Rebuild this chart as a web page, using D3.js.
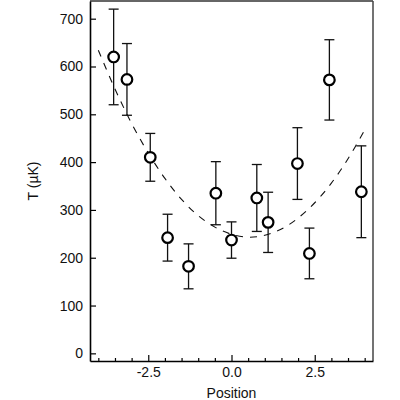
<!DOCTYPE html>
<html>
<head>
<meta charset="utf-8">
<script src="https://cdn.jsdelivr.net/npm/d3@7"></script>
<style>
  body { margin: 0; background: #fff; }
  text { font-family: "Liberation Sans", Arial, sans-serif; }
</style>
</head>
<body>
<script>
// measured points
const positions = [-3.54, -3.14, -2.44, -1.92, -1.29, -0.47, 0.0, 0.76, 1.10, 1.98, 2.34, 2.94, 3.90];
const temps = [620, 573, 410, 242, 182, 335, 237, 325, 274, 397, 209, 572, 338];
const errors = [100, 75, 50, 49, 47, 66, 38, 70, 63, 75, 53, 84, 96];

// dashed fit curve
const fitX = [-4.0, -3.5, -3.0, -2.5, -2.0, -1.5, -1.0, -0.5, 0.0, 0.5, 1.0, 1.5, 2.0, 2.5, 3.0, 3.5, 4.0];
const fitT = [634, 553, 481, 419, 366, 322, 288, 264, 249, 243, 247, 260, 283, 315, 356, 407, 467];

const xMajor = [-2.5, 0, 2.5];
const xMinor = [-4, -3.5, -3, -2, -1.5, -1, -0.5, 0.5, 1, 1.5, 2, 3, 3.5, 4];
const yTicks = [0, 100, 200, 300, 400, 500, 600, 700];

const width = 400, height = 400;
const margin = {top: 1, right: 27, bottom: 39, left: 90};

const svg = d3.select("body")
    .append("svg")
    .attr("width", width)
    .attr("height", height);

const x = d3.scaleLinear()
    .domain([-4.25, 4.25])
    .range([margin.left, width - margin.right]);

const y = d3.scaleLinear()
    .domain([-16, 737])
    .range([height - margin.bottom, margin.top]);

// frame: top and right in grey
svg.append("line")
    .attr("x1", margin.left).attr("x2", width - margin.right)
    .attr("y1", margin.top).attr("y2", margin.top)
    .attr("stroke", "#666").attr("stroke-width", 2);
svg.append("line")
    .attr("x1", width - margin.right).attr("x2", width - margin.right)
    .attr("y1", margin.top).attr("y2", height - margin.bottom)
    .attr("stroke", "#444").attr("stroke-width", 1.5);

// x axis, ticks pointing inward
const xAxisMinor = svg.append("g")
    .attr("transform", `translate(0,${height - margin.bottom})`)
    .call(d3.axisBottom(x).tickValues(xMinor).tickSize(-3).tickFormat(""));
xAxisMinor.select(".domain").remove();

const xAxis = svg.append("g")
    .attr("transform", `translate(0,${height - margin.bottom})`)
    .call(d3.axisBottom(x).tickValues(xMajor).tickSize(-6).tickSizeOuter(0)
        .tickPadding(6).tickFormat(d => d.toFixed(1)));

const yAxis = svg.append("g")
    .attr("transform", `translate(${margin.left},0)`)
    .call(d3.axisLeft(y).tickValues(yTicks).tickSize(-6).tickSizeOuter(0).tickPadding(7));

svg.selectAll("g .domain").attr("stroke-width", 1.6);
svg.selectAll("g .tick line").attr("stroke-width", 1.2);
svg.selectAll("g .tick text")
    .attr("font-size", 14)
    .attr("fill", "#111")
    .style("font-family", "'Liberation Sans', Arial, sans-serif");

// axis titles
svg.append("text")
    .attr("x", x(0))
    .attr("y", 398)
    .attr("text-anchor", "middle")
    .attr("font-size", 14)
    .attr("fill", "#111")
    .text("Position");

svg.append("text")
    .attr("transform", `translate(38,${(margin.top + height - margin.bottom) / 2}) rotate(-90)`)
    .attr("text-anchor", "middle")
    .attr("font-size", 14)
    .attr("fill", "#111")
    .text("T (µK)");

// fit curve
const fitLine = d3.line()
    .x(d => x(d[0]))
    .y(d => y(d[1]))
    .curve(d3.curveCatmullRom);

svg.append("path")
    .datum(fitX.map((v, i) => [v, fitT[i]]))
    .attr("d", fitLine)
    .attr("fill", "none")
    .attr("stroke", "#111")
    .attr("stroke-width", 1.1)
    .attr("stroke-dasharray", "7,7");

// error bars
const pts = positions.map((p, i) => ({x: p, t: temps[i], e: errors[i]}));
const bars = svg.append("g").attr("stroke", "#111").attr("stroke-width", 1.3);

bars.selectAll(".stem")
    .data(pts)
    .join("line")
    .attr("x1", d => x(d.x)).attr("x2", d => x(d.x))
    .attr("y1", d => y(d.t - d.e)).attr("y2", d => y(d.t + d.e));

bars.selectAll(".capTop")
    .data(pts)
    .join("line")
    .attr("x1", d => x(d.x) - 5).attr("x2", d => x(d.x) + 5)
    .attr("y1", d => y(d.t + d.e)).attr("y2", d => y(d.t + d.e));

bars.selectAll(".capBottom")
    .data(pts)
    .join("line")
    .attr("x1", d => x(d.x) - 5).attr("x2", d => x(d.x) + 5)
    .attr("y1", d => y(d.t - d.e)).attr("y2", d => y(d.t - d.e));

// markers
svg.append("g")
    .selectAll("circle")
    .data(pts)
    .join("circle")
    .attr("cx", d => x(d.x))
    .attr("cy", d => y(d.t))
    .attr("r", 5.3)
    .attr("fill", "#fff")
    .attr("stroke", "#000")
    .attr("stroke-width", 2.2);
</script>
</body>
</html>
